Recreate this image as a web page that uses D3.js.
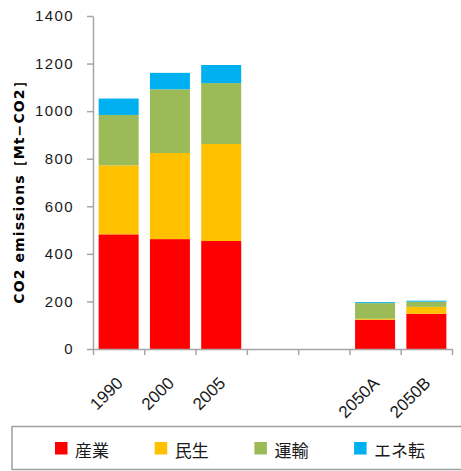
<!DOCTYPE html>
<html>
<head>
<meta charset="utf-8">
<script src="https://cdn.jsdelivr.net/npm/d3@7"></script>
<style>
  html, body { margin: 0; padding: 0; background: #fff; }
  svg { display: block; }
</style>
</head>
<body>
<script>
// Categories along the x axis (two empty slots separate 2005 from the 2050 scenarios)
const categories = ["1990", "2000", "2005", "", "", "2050A", "2050B"];

// Emissions per sector, Mt-CO2
const industry    = [482, 462, 454, 0, 0, 123, 148];
const residential = [290, 362, 408, 0, 0, 4, 29];
const transport   = [212, 268, 256, 0, 0, 66, 22];
const energy      = [69, 69, 76, 0, 0, 4, 4];

const seriesNames  = ["産業", "民生", "運輸", "エネ転"];
const seriesColors = ["#FF0000", "#FFC000", "#9BBB59", "#00B0F0"];
const yTicks = [0, 200, 400, 600, 800, 1000, 1200, 1400];

const W = 461, H = 471;
const plot = { left: 93, right: 452, top: 16, bottom: 349 };

const svg = d3.select("body").append("svg")
  .attr("width", W).attr("height", H);

const rows = categories.map((c, i) => ({
  idx: i, cat: c,
  s0: industry[i], s1: residential[i], s2: transport[i], s3: energy[i]
}));
const keys = ["s0", "s1", "s2", "s3"];
const stacked = d3.stack().keys(keys)(rows);

const x = d3.scaleBand()
  .domain(d3.range(categories.length))
  .range([plot.left, plot.right])
  .paddingInner(0.22).paddingOuter(0.11);

const xEdge = d3.scaleLinear()
  .domain([0, categories.length])
  .range([plot.left, plot.right]);

const y = d3.scaleLinear().domain([0, 1400]).range([plot.bottom, plot.top]);

// Stacked bars
svg.append("g").selectAll("g")
  .data(stacked)
  .join("g")
  .attr("fill", (d, i) => seriesColors[i])
  .selectAll("rect")
  .data(d => d.filter(p => p[1] > p[0]))
  .join("rect")
  .attr("x", d => x(d.data.idx))
  .attr("width", x.bandwidth())
  .attr("y", d => y(d[1]))
  .attr("height", d => y(d[0]) - y(d[1]));

const axisColor = "#A6A6A6";

// Y axis
const yAxis = svg.append("g")
  .attr("transform", `translate(${plot.left},0)`)
  .call(d3.axisLeft(y).tickValues(yTicks).tickFormat(d3.format("d"))
    .tickSize(6).tickPadding(13).tickSizeOuter(0));
yAxis.select(".domain").attr("stroke", axisColor).attr("stroke-width", 1.5);
yAxis.selectAll(".tick line").attr("stroke", axisColor).attr("stroke-width", 1.5);
yAxis.selectAll(".tick text")
  .attr("fill", "#1a1a1a")
  .style("font-family", "'Liberation Sans', Arial, sans-serif")
  .style("font-size", "15px")
  .style("letter-spacing", "1.4px");

// X axis: ticks on category boundaries
const xAxis = svg.append("g")
  .attr("transform", `translate(0,${plot.bottom})`)
  .call(d3.axisBottom(xEdge).tickValues(d3.range(categories.length + 1))
    .tickFormat("").tickSize(6).tickSizeOuter(0));
xAxis.select(".domain").attr("stroke", axisColor).attr("stroke-width", 1.5);
xAxis.selectAll(".tick line").attr("stroke", axisColor).attr("stroke-width", 1.5);

// Category labels, rotated
svg.append("g").selectAll("text")
  .data(rows.filter(r => r.cat !== ""))
  .join("text")
  .attr("transform", d => `translate(${x(d.idx) + x.bandwidth() / 2 + 1},${plot.bottom + 31}) rotate(-45)`)
  .attr("text-anchor", "end")
  .attr("dy", "0.35em")
  .attr("fill", "#1a1a1a")
  .style("font-family", "'Liberation Sans', Arial, sans-serif")
  .style("font-size", "17px")
  .text(d => d.cat);

// Y axis title
svg.append("text")
  .attr("transform", `translate(19,${(plot.top + plot.bottom) / 2 + 6}) rotate(-90)`)
  .attr("text-anchor", "middle")
  .attr("dy", "0.35em")
  .attr("fill", "#000")
  .style("font-family", "'DejaVu Sans', sans-serif")
  .style("font-weight", "bold")
  .style("font-size", "14px")
  .style("letter-spacing", "1.1px")
  .text("CO2 emissions［Mt−CO2］");

// Legend
const legend = svg.append("g");
legend.append("rect")
  .attr("x", 12).attr("y", 426.5).attr("width", 452).attr("height", 43)
  .attr("fill", "#fff").attr("stroke", "#A0A0A0").attr("stroke-width", 1.5);
const items = legend.selectAll("g.item")
  .data(seriesNames)
  .join("g")
  .attr("class", "item")
  .attr("transform", (d, i) => `translate(${55 + i * 99.7},0)`);
items.append("rect")
  .attr("x", 0).attr("y", 442).attr("width", 12.5).attr("height", 12.5)
  .attr("fill", (d, i) => seriesColors[i]);
items.append("text")
  .attr("x", 20).attr("y", 451).attr("dy", "0.35em")
  .attr("fill", "#1a1a1a")
  .style("font-family", "'Noto Sans CJK JP', sans-serif")
  .style("font-size", "17px")
  .text(d => d);
</script>
</body>
</html>
